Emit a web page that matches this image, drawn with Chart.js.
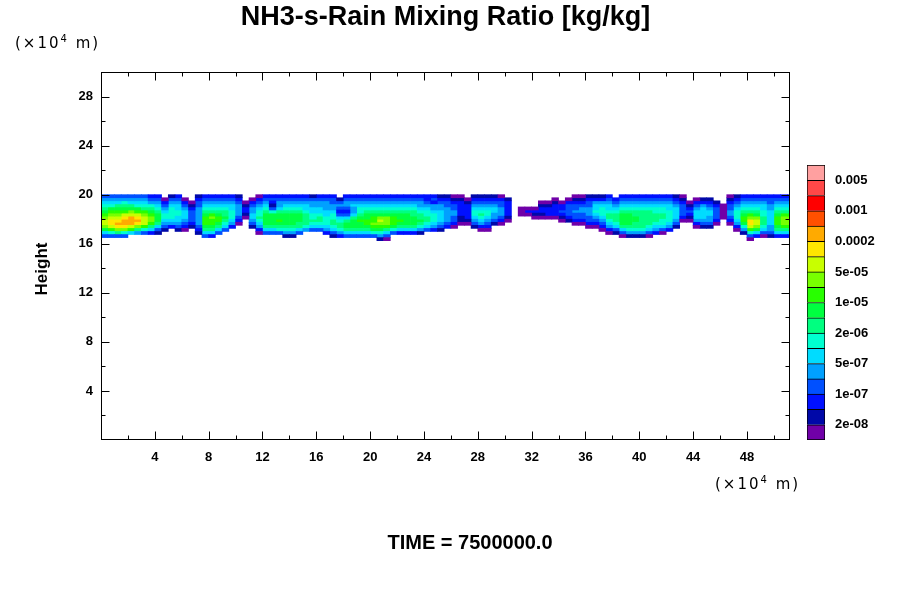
<!DOCTYPE html>
<html>
<head>
<meta charset="utf-8">
<script src="https://cdn.jsdelivr.net/npm/chart.js@4.4.1/dist/chart.umd.min.js"></script>
<style>
  body { margin: 0; background: #fff; }
  #wrap { position: relative; width: 900px; height: 600px; }
  #main { position: absolute; left: 0; top: 0; }
  #cbar { position: absolute; left: 800px; top: 150px; }
</style>
</head>
<body>
<div id="wrap">
  <canvas id="main" width="900" height="600"></canvas>
  <canvas id="cbar" width="100" height="300"></canvas>
</div>
<script>
// contour levels, lowest first (1e-08 .. 5e-03 and above)
var levelColors = [
    "#7000a8", "#0008a8", "#0010ff", "#0050ff", "#00a0ff", "#00dcff",
    "#00ffd0", "#00ff80", "#00ff40", "#28ff00", "#78ff00", "#c8ff00",
    "#ffe600", "#ffaa00", "#ff5000", "#ff0000", "#ff4848", "#ffa0a0"
];
// colour bar labels sit on every other level boundary
var colorbarTicks = [1, 3, 5, 7, 9, 11, 13, 15, 17];
var colorbarLabels = ["2e-08", "1e-07", "5e-07", "2e-06", "1e-05", "5e-05", "0.0002", "0.001", "0.005"];

// field: one string per column (x step 0.5 from x=0),
// characters are rows from height 20 downwards in 0.25 steps,
// each char = level index (hex, 1 = lowest), "." = below lowest level
var xStart = 0, xStep = 0.5;
var yTop = 20, yStep = 0.25;
var fieldColumns = [
    "456789abccb964.", "45679abcddca74.", "45689abcdedb84.", "45789acdeedb74.",
    "45689bceeeca6..", "45679acdedb85..", "45678abccca74..", "345789abba863..",
    "3456789998642..", ".13456776542...", "24567777653....", "345667766542...",
    ".13456665431...", "..123444432....", "2344555555432..", "3456789aaa9864.",
    "345678abaa9863.", "3456789aa9864..", "345678898764...", "34566777653....",
    "2345555431.....", "..123321.......", ".1345566542....", "1345677876531..",
    "3456789999864..", "3432479999864..", "34556899a9874..", "34567899998752.",
    "34567899998752.", "3456789998864..", "345667888875...", "245566778764...",
    "345566788764...", "3455566777653..", "34455677887642.", ".2454346788753.",
    "34554346899864.", "34565568999864.", "34567789a99864.", "34567899aa9864.",
    "3456789aaba974.", "3456789bcba9752", "3456789bbba8641", "3456789aaa974..",
    "34567899a9863..", "3456789999863..", "3456788999863..", "3455678898752..",
    "334567788764...", "343556777653...", "234556666542...", "23445555543....",
    "12344554431....", "1233333221.....", ".123333321.....", "23456776542....",
    "234567876531...", "234567765431...", "2345665542.....", "1344555431.....",
    ".23333321......", "...............", "....111........", "....131........",
    "....1321.......", "..123321.......", "..123331.......", ".1233331.......",
    "..1334321......", ".13444432......", "1234454431.....", "1234554431.....",
    "23445554431....", "23566765431....", "235677765431...", "3456678876531..",
    ".345678887642..", "34567899998641.", "34567899998752.", "34567889988752.",
    "34567888888752.", "34567888887641.", "3456778887653..", "3456778877641..",
    "345667777653...", "23456666542....", "123444431......", "..1234321......",
    ".1345666531....", ".2356666542....", ".2345665542....", "..23444431.....",
    "...11111.......", "1234455431.....", "234567776531...", "3456789aa9752..",
    "345678abddca741", "3456789bccb963.", "34566778887641.", "34455666665542.",
    "3456789aaa9863.", "345678abbba863.", "345678abbba863."
];

var xMax = 51.2, yMax = 30;
var tickStep = 4, minorStep = 2;
var xLabelMax = 48, yLabelMax = 28;

var titleText = "NH3-s-Rain Mixing Ratio [kg/kg]";
var yTitle = "Height";
var timeText = "TIME = 7500000.0";

Chart.defaults.font.family = "Liberation Sans";
Chart.defaults.color = "#000";

function build_datasets() {
    var sets = levelColors.map(function (c, i) {
        return {
            label: "level " + (i + 1),
            data: [],
            backgroundColor: c,
            borderWidth: 0,
            grouped: false,
            barPercentage: 1,
            categoryPercentage: 1
        };
    });
    for (var c = 0; c < fieldColumns.length; c += 1) {
        var col = fieldColumns[c];
        var xc = xStart + xStep * (c + 0.5);
        var r = 0;
        while (r < col.length) {
            var ch = col[r];
            var r2 = r;
            while (r2 + 1 < col.length && col[r2 + 1] === ch) {
                r2++;
            }
            if (ch !== ".") {
                var lv = parseInt(ch, 16);
                sets[lv - 1].data.push({x: xc, y: [yTop - yStep * (r2 + 1), yTop - yStep * r]});
            }
            r = r2 + 1;
        }
    }
    return sets.filter(function (d) { return d.data.length > 0; });
}

function tick_list(step, last) {
    var out = [];
    for (var v = step; v <= last; v += step) {
        out.push({value: v});
    }
    return out;
}

function draw_unit(ctx, x, y) {
    ctx.save();
    ctx.fillStyle = "#000";
    ctx.textAlign = "left";
    ctx.textBaseline = "middle";
    ctx.letterSpacing = "2px";
    ctx.font = "15px 'DejaVu Sans'";
    ctx.fillText("(\u00d710", x, y);
    var w = ctx.measureText("(\u00d710").width;
    ctx.font = "10px 'DejaVu Sans'";
    ctx.fillText("4", x + w, y - 5);
    var w2 = ctx.measureText("4").width;
    ctx.font = "15px 'DejaVu Sans'";
    ctx.fillText(" m)", x + w + w2, y);
    ctx.restore();
}

var frameAndText = {
    id: "frameAndText",
    afterDatasetsDraw: function (chart) {
        var ctx = chart.ctx;
        var a = chart.chartArea;
        var xs = chart.scales.x;
        var ys = chart.scales.y;
        var l = Math.round(a.left) + 0.5, r = Math.round(a.right) - 0.5;
        var t = Math.round(a.top) + 0.5, b = Math.round(a.bottom) - 0.5;
        ctx.save();
        ctx.strokeStyle = "#000";
        ctx.lineWidth = 1;
        ctx.strokeRect(l, t, r - l, b - t);
        ctx.beginPath();
        var v, p, len;
        for (v = minorStep; v < xMax; v += minorStep) {
            p = Math.round(xs.getPixelForValue(v)) + 0.5;
            len = v % tickStep === 0 ? 8 : 4;
            ctx.moveTo(p, b); ctx.lineTo(p, b - len);
            ctx.moveTo(p, t); ctx.lineTo(p, t + len);
        }
        for (v = minorStep; v < yMax; v += minorStep) {
            p = Math.round(ys.getPixelForValue(v)) + 0.5;
            len = v % tickStep === 0 ? 8 : 4;
            ctx.moveTo(l, p); ctx.lineTo(l + len, p);
            ctx.moveTo(r, p); ctx.lineTo(r - len, p);
        }
        ctx.stroke();
        ctx.restore();
    },
    afterDraw: function (chart) {
        var ctx = chart.ctx;
        ctx.save();
        ctx.fillStyle = "#000";
        ctx.textAlign = "center";
        ctx.textBaseline = "middle";
        ctx.font = "bold 20px 'Liberation Sans'";
        ctx.fillText(timeText, 470, 543);
        ctx.translate(42, 269);
        ctx.rotate(-Math.PI / 2);
        ctx.font = "bold 17px 'Liberation Sans'";
        ctx.fillText(yTitle, 0, 0);
        ctx.restore();
        draw_unit(ctx, 15, 44);
        draw_unit(ctx, 715, 485);
    }
};

var tickFont = {family: "Liberation Sans", size: 13, weight: "bold"};

var mainChart = new Chart(document.getElementById("main"), {
    type: "bar",
    data: {datasets: build_datasets()},
    options: {
        responsive: false,
        animation: false,
        layout: {padding: {left: 10, right: 110, top: 0, bottom: 130}},
        plugins: {
            legend: {display: false},
            tooltip: {enabled: false},
            title: {
                display: true,
                text: titleText,
                fullSize: false,
                color: "#000",
                font: {family: "Liberation Sans", size: 27, weight: "bold"},
                padding: {top: 1, bottom: 38.6}
            }
        },
        scales: {
            x: {
                type: "linear",
                min: 0,
                max: xMax,
                offset: false,
                grid: {display: false, drawTicks: false},
                border: {display: false},
                afterBuildTicks: function (s) { s.ticks = tick_list(tickStep, xLabelMax); },
                ticks: {
                    padding: 10,
                    maxRotation: 0,
                    autoSkip: false,
                    font: tickFont,
                    color: "#000"
                },
                afterFit: function (s) { s.height = 30; }
            },
            y: {
                type: "linear",
                min: 0,
                max: yMax,
                grid: {display: false, drawTicks: false},
                border: {display: false},
                afterBuildTicks: function (s) { s.ticks = tick_list(tickStep, yLabelMax); },
                ticks: {
                    padding: 8,
                    font: tickFont,
                    color: "#000"
                },
                afterFit: function (s) { s.width = 91; }
            }
        }
    },
    plugins: [frameAndText]
});

var colorBar = new Chart(document.getElementById("cbar"), {
    type: "bar",
    data: {
        labels: [""],
        datasets: levelColors.map(function (c, i) {
            return {
                data: [[i, i + 1]],
                backgroundColor: c,
                borderColor: "#000",
                borderWidth: 1,
                borderSkipped: i === 0 ? false : "start",
                grouped: false,
                barPercentage: 1,
                categoryPercentage: 1
            };
        })
    },
    options: {
        responsive: false,
        animation: false,
        layout: {padding: {left: 7, right: 0, top: 15, bottom: 10}},
        plugins: {legend: {display: false}, tooltip: {enabled: false}},
        scales: {
            x: {display: false},
            y: {
                position: "right",
                min: 0,
                max: levelColors.length,
                grid: {display: false, drawTicks: false},
                border: {display: false},
                afterBuildTicks: function (s) {
                    s.ticks = colorbarTicks.map(function (v) { return {value: v}; });
                },
                ticks: {
                    padding: 10,
                    font: tickFont,
                    color: "#000",
                    callback: function (v) { return colorbarLabels[colorbarTicks.indexOf(v)]; }
                },
                afterFit: function (s) {
                    s.width = 75;
                    s.paddingTop = 0;
                    s.paddingBottom = 0;
                }
            }
        }
    }
});
</script>
</body>
</html>
